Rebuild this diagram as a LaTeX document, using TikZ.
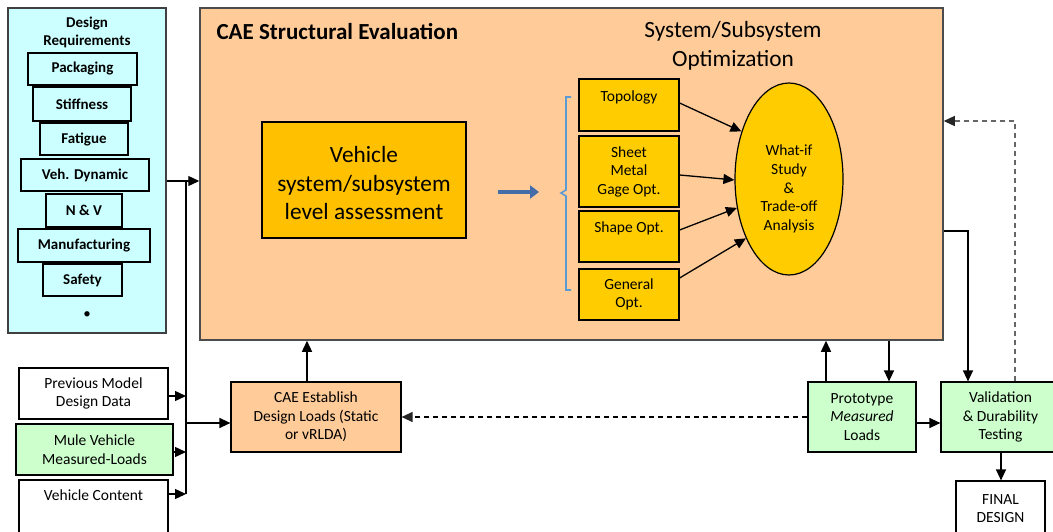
\documentclass[tikz,border=0pt]{standalone}
\usepackage{fontspec}
\setmainfont{Carlito}
\usetikzlibrary{arrows.meta,calc,shapes.geometric}
\definecolor{peach}{RGB}{255,204,153}
\definecolor{cyanbg}{RGB}{204,255,255}
\definecolor{greenbg}{RGB}{204,255,204}
\definecolor{vehcol}{RGB}{255,192,0}
\definecolor{optcol}{RGB}{255,204,0}
\definecolor{bracecol}{RGB}{91,155,213}
\definecolor{bluearr}{RGB}{68,108,168}
\begin{document}
\begin{tikzpicture}[x=1pt,y=-1pt,
  box/.style={draw=black, line width=1.2pt, rectangle, inner sep=0pt, align=center, font=\fontsize{15.5}{18.5}\selectfont},
  reqbox/.style={draw=black, line width=1.6pt, fill=cyanbg, inner sep=0pt, font=\bfseries\fontsize{15}{16}\selectfont},
  optbox/.style={box, fill=optcol, minimum width=100pt},
  arr/.style={line width=1.3pt, -{Triangle[length=11pt,width=10pt]}},
  dasharr/.style={line width=1.3pt, dash pattern=on 5pt off 4pt, -{Triangle[length=11pt,width=10pt,color=black!85,fill=black!85]}},
]
\clip (0,0) rectangle (1053,531);
\fill[white] (0,0) rectangle (1053,531);

% Design requirements
\node[draw=black!75, line width=1.5pt, fill=cyanbg, minimum width=158pt, minimum height=325pt, inner sep=0pt] (req) at (87,170.5) {};
\node[align=center, font=\bfseries\fontsize{15}{18}\selectfont] (reqt) at (87,32) {Design\\Requirements};
\node[reqbox, minimum width=109pt, minimum height=32pt] (pack) at (82.5,69) {Packaging};
\node[reqbox, minimum width=98pt, minimum height=34pt] (stiff) at (82,104) {Stiffness};
\node[reqbox, minimum width=88pt, minimum height=32pt] (fat) at (84,139) {Fatigue};
\node[reqbox, minimum width=128pt, minimum height=32pt] (veh) at (85,175) {Veh. Dynamic};
\node[reqbox, minimum width=76pt, minimum height=33pt] (nv) at (84,210.5) {N \& V};
\node[reqbox, minimum width=132pt, minimum height=33pt] (manu) at (84,245.5) {Manufacturing};
\node[reqbox, minimum width=79pt, minimum height=32pt] (safe) at (82.5,280) {Safety};
\node[font=\fontsize{15}{16}\selectfont] (dot) at (87,315) {\textbullet};

% main box
\node[draw=black!70, line width=1.5pt, fill=peach, minimum width=743pt, minimum height=332pt, inner sep=0pt] (main) at (571.5,174) {};
\node[anchor=west, font=\bfseries\fontsize{23}{26}\selectfont] (maint) at (213,31) {CAE Structural Evaluation};
\node[align=center, font=\fontsize{23.3}{29}\selectfont] (optt) at (733,46) {System/Subsystem\\Optimization};

\node[box, fill=vehcol, minimum width=204pt, minimum height=116pt] (vsa) at (364,180) {};
\node[align=center, font=\fontsize{23.3}{28.5}\selectfont] (vsat) at (364,183) {Vehicle\\system/subsystem\\level assessment};

\node[optbox, minimum height=52pt, text height=10pt, text depth=18pt] (topo) at (629,105) {Topology};
\node[optbox, minimum height=71pt] (sheet) at (629,171.5) {Sheet\\Metal\\Gage Opt.};
\node[optbox, minimum height=51pt, text height=10pt, text depth=19pt] (shape) at (629,236.5) {Shape Opt.};
\node[optbox, minimum height=51pt] (gen) at (629,294.5) {General\\Opt.};

\node[ellipse, draw=black, line width=1.2pt, fill=optcol, minimum width=108pt, minimum height=192pt, inner sep=0pt] (ell) at (789,179) {};
\node[align=center, font=\fontsize{15.5}{18.7}\selectfont] (ellt) at (789,189) {What-if\\Study\\\&\\Trade-off\\Analysis};

% brace
\draw[bracecol, line width=1.6pt] (571,97) -- (566,97) -- (566,190) -- (561,193) -- (566,196) -- (566,290) -- (571,290);

% blue arrow
\coordinate (ba1) at (498,192);
\coordinate (ba2) at (539,192);
\draw[bluearr, line width=4.5pt, -{Triangle[length=9pt,width=13pt]}] (ba1) -- (ba2);

% bottom boxes
\node[box, minimum width=149pt, minimum height=51pt] (prev) at (93.5,393.5) {Previous Model\\Design Data};
\node[box, fill=greenbg, minimum width=157pt, minimum height=51pt] (mule) at (94.5,449.5) {Mule Vehicle\\Measured-Loads};
\node[box, minimum width=149pt, minimum height=60pt, text height=11pt, text depth=31pt] (vc) at (93.5,510) {Vehicle Content};
\node[box, fill=peach, minimum width=170pt, minimum height=70pt] (est) at (316,417) {CAE Establish\\Design Loads (Static\\or vRLDA)};
\node[box, fill=greenbg, minimum width=108pt, minimum height=70pt] (proto) at (862,417) {Prototype\\\textit{Measured}\\Loads};
\node[box, fill=greenbg, minimum width=119pt, minimum height=70pt] (valid) at (1000.5,417) {Validation\\\& Durability\\Testing};
\node[box, minimum width=89pt, minimum height=55pt] (final) at (1000.5,508.5) {FINAL\\DESIGN};

% connectors left
\coordinate (busT) at (186,181);
\coordinate (busB) at (186,494);
\draw[line width=1.3pt] (busT) -- (busB);
\draw[arr] (req.east |- busT) -- (main.west |- busT);
\draw[arr] (prev.east |- 0,396) -- (busT |- 0,396);
\draw[arr] (mule.east |- 0,452) -- (busT |- 0,452);
\draw[arr] (vc.east |- busB) -- (busB);
\draw[arr] (busT |- 0,423) -- (est.west |- 0,423);

% opt arrows
\draw[arr] (topo.east |- 0,103) -- (ell.135);
\draw[arr] (sheet.east |- 0,175) -- (ell.181);
\draw[arr] (shape.east |- 0,230) -- (ell.209);
\draw[arr] (gen.east |- 0,278) -- (ell.234);

% right side
\draw[arr] (main.east |- 0,231) -| (968,0 |- valid.north);
\draw[dasharr, draw=black!60] (1015,0 |- valid.north) |- (main.east |- 0,121);

% bottom
\draw[arr] (307,0 |- est.north) -- (307,0 |- main.south);
\draw[arr] (826,0 |- proto.north) -- (826,0 |- main.south);
\draw[arr] (889,0 |- main.south) -- (889,0 |- proto.north);
\draw[dasharr] (proto.west) -- (est.east);
\draw[arr] (proto.east |- 0,423) -- (valid.west |- 0,423);
\draw[arr] (1001,0 |- valid.south) -- (1001,0 |- final.north);
\end{tikzpicture}
\end{document}
